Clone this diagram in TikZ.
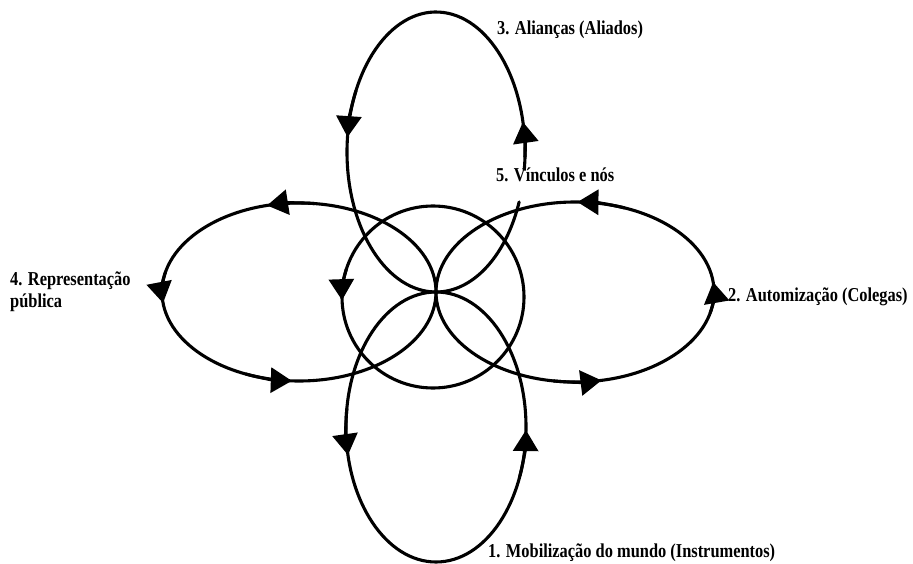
\documentclass[tikz,border=0pt]{standalone}
\usepackage{fontspec}
\setmainfont{Liberation Serif}
\usepackage{graphicx}
\usetikzlibrary{arrows.meta}
\newcommand\tallbox[1]{\scalebox{1}[1.2]{#1}}
\newcommand\looptip[5]{\draw[tipmark] (#1,#2) ++(#5-20:#3 and #4) arc[start angle=#5-20, end angle=#5, x radius=#3, y radius=#4];}
\begin{document}
\begin{tikzpicture}[x=1pt,y=1pt,
  loopline/.style={line width=3.1pt, line cap=round},
  tipmark/.style={line width=3.1pt, -{Triangle[length=21pt,width=25pt]}},
  lbl/.style={inner sep=0pt, anchor=base west, font=\fontsize{16.4}{18.4}\selectfont\bfseries}]
\useasboundingbox (0,-564) rectangle (913,0);

% loops
\draw[loopline] (436,-152) ++(-2:89 and 140) arc[start angle=-2, end angle=339.1, x radius=89, y radius=140];
\draw[loopline] (575,-292) ellipse[x radius=139, y radius=90];
\draw[loopline] (299,-292) ellipse[x radius=137, y radius=89];
\draw[loopline] (436,-427) ellipse[x radius=90, y radius=135];
\draw[loopline] (433,-297) circle[radius=91];

% arrowheads
\looptip{575}{-292}{139}{90}{281}
\looptip{575}{-292}{139}{90}{6.4}
\looptip{575}{-292}{139}{90}{89}
\looptip{299}{-292}{137}{89}{103.5}
\looptip{299}{-292}{137}{89}{187.1}
\looptip{299}{-292}{137}{89}{267}
\looptip{436}{-152}{89}{140}{173.9}
\looptip{436}{-152}{89}{140}{12.4}
\looptip{436}{-427}{90}{135}{192}
\looptip{436}{-427}{90}{135}{358.7}
\looptip{433}{-297}{91}{91}{182}

% labels
\node[lbl] (l3) at (497,-35) {\tallbox{3. Alianças (Aliados)}};
\node[lbl] (l5) at (496,-182) {\tallbox{5. Vínculos e nós}};
\node[lbl] (l4) at (10,-285) {\tallbox{\begin{tabular}[t]{@{}l@{}}4. Representação\\pública\end{tabular}}};
\node[lbl] (l2) at (728,-301) {\tallbox{2. Automização (Colegas)}};
\node[lbl] (l1) at (488,-557) {\tallbox{1. Mobilização do mundo (Instrumentos)}};
\end{tikzpicture}
\end{document}
